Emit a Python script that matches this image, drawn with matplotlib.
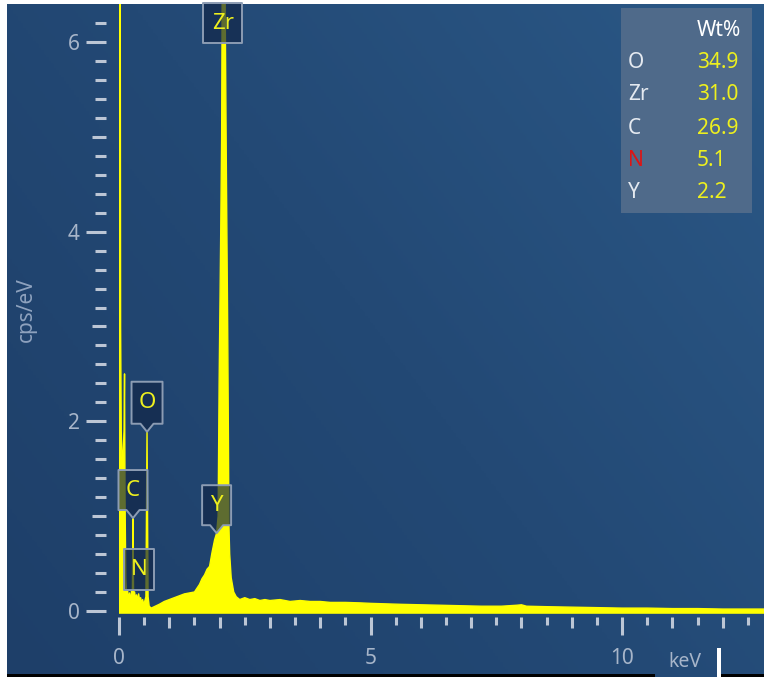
import numpy as np
import matplotlib.pyplot as plt
import matplotlib.transforms as mtransforms
from matplotlib.patches import Polygon, Rectangle
from matplotlib.colors import LinearSegmentedColormap

plt.rcParams['font.family'] = ['Noto Sans', 'DejaVu Sans']

# EDS spectrum, energy (keV) vs counts (cps/eV)
energy = [0.000, 0.008, 0.020, 0.032, 0.045, 0.060, 0.080, 0.100, 0.110, 0.120,
          0.135, 0.150, 0.170, 0.190, 0.210, 0.230, 0.250, 0.265, 0.278, 0.290,
          0.310, 0.330, 0.350, 0.370, 0.390, 0.410, 0.430, 0.450, 0.470, 0.490,
          0.510, 0.535, 0.557, 0.578, 0.600, 0.640, 0.680, 0.720, 0.760, 0.800,
          0.900, 1.000, 1.100, 1.200, 1.300, 1.400, 1.500, 1.550, 1.600, 1.650,
          1.700, 1.750, 1.800, 1.850, 1.900, 1.940, 1.970, 1.990, 2.020, 2.040,
          2.050, 2.075, 2.110, 2.135, 2.160, 2.175, 2.185, 2.200, 2.230, 2.280,
          2.330, 2.400, 2.500, 2.600, 2.700, 2.800, 2.900, 3.000, 3.200, 3.400,
          3.600, 3.800, 4.000, 4.200, 4.500, 4.800, 5.000, 5.300, 5.600, 6.000,
          6.400, 6.800, 7.200, 7.600, 7.900, 8.000, 8.100, 8.500, 9.000, 9.500,
          10.000, 10.500, 11.000, 11.500, 12.000, 12.500, 12.820]
counts = [1.60, 3.00, 9.00, 3.00, 1.90, 1.60, 1.65, 1.90, 2.50, 1.20,
          0.35, 0.15, 0.22, 0.12, 0.19, 0.10, 0.21, 0.15, 0.98, 0.14,
          0.20, 0.12, 0.17, 0.10, 0.18, 0.11, 0.14, 0.08, 0.12, 0.07,
          0.10, 0.15, 1.89, 0.15, 0.05, 0.03, 0.04, 0.05, 0.06, 0.07,
          0.10, 0.12, 0.14, 0.16, 0.18, 0.19, 0.20, 0.24, 0.28, 0.34,
          0.38, 0.44, 0.47, 0.62, 0.75, 0.82, 1.00, 2.40, 3.90, 5.00,
          6.40, 10.00, 6.40, 4.60, 3.00, 1.80, 0.90, 0.60, 0.35, 0.20,
          0.15, 0.12, 0.14, 0.12, 0.13, 0.11, 0.12, 0.11, 0.12, 0.10,
          0.11, 0.10, 0.10, 0.09, 0.09, 0.085, 0.08, 0.075, 0.07, 0.065,
          0.06, 0.055, 0.05, 0.05, 0.06, 0.065, 0.05, 0.045, 0.04, 0.035,
          0.03, 0.03, 0.025, 0.025, 0.02, 0.02, 0.02]

# peak labels: element, line energy (keV)
peak_elements = ['C', 'O', 'Y']
peak_energy = [0.278, 0.557, 1.940]

# quantification table
elements = ['O', 'Zr', 'C', 'N', 'Y']
wt_percent = ['34.9', '31.0', '26.9', '5.1', '2.2']

W, H = 764, 677
fig = plt.figure(figsize=(W / 100, H / 100), dpi=100, facecolor='white')


def fx(px):
    return px / W


def fy(py):
    return 1 - py / H


# dark blue gradient panel
bg = fig.add_axes([fx(7), 0, 1 - fx(7), fy(4)])
bg.set_zorder(-1)
bg.axis('off')
yy, xx = np.mgrid[0:1:300j, 0:1:300j]
shade = 0.6 * xx + 0.4 * yy
cmap = LinearSegmentedColormap.from_list('panel', ['#1e3f69', '#234975', '#2b5886'])
bg.imshow(shade, origin='lower', extent=[0, 1, 0, 1], aspect='auto', cmap=cmap)
bg.set_xlim(0, 1)
bg.set_ylim(0, 1)

ax = fig.add_axes([fx(119), fy(613.8), 1 - fx(119), fy(4.1) - fy(613.8)])
ax.patch.set_alpha(0)
ax.set_xlim(0, 12.82)
ax.set_ylim(-0.03, 6.4)
for s in ax.spines.values():
    s.set_color('none')
ax.spines['bottom'].set_position(('outward', 2.3))
ax.spines['left'].set_position(('outward', 9.4))

tick_col = '#bcc6d5'
lab_col = '#a7b5c9'

ax.set_xticks([0, 5, 10])
ax.set_xticks([h for h in np.arange(0.5, 12.6, 0.5) if h % 1 != 0], minor=True)
ax.set_yticks([0, 2, 4, 6])
ax.set_yticks([v for v in np.round(np.arange(0.2, 6.4, 0.2), 1) if v % 1 != 0], minor=True)
ax.tick_params(axis='x', which='major', length=13, width=2.2, color=tick_col,
               labelsize=15, labelcolor=lab_col, pad=9)
ax.tick_params(axis='x', which='minor', length=5.8, width=2.2, color=tick_col)
ax.tick_params(axis='y', which='major', length=14.4, width=2.2, color=tick_col,
               labelsize=15, labelcolor=lab_col, pad=4.5)
ax.tick_params(axis='y', which='minor', length=8, width=2.2, color=tick_col)

# whole keV and odd cps ticks, medium length
secx = ax.secondary_xaxis('bottom')
secx.spines['bottom'].set_position(('outward', 2.3))
secx.spines['bottom'].set_color('none')
secx.set_xticks([1, 2, 3, 4, 6, 7, 8, 9, 11, 12])
secx.tick_params(length=8, width=2.2, color=tick_col, labelbottom=False)
secy = ax.secondary_yaxis('left')
secy.spines['left'].set_position(('outward', 9.4))
secy.spines['left'].set_color('none')
secy.set_yticks([1, 3, 5])
secy.tick_params(length=10, width=2.2, color=tick_col, labelleft=False)

# spectrum
ax.fill_between(energy, counts, -0.03, color='#ffff00', lw=0, zorder=3)
ax.plot(energy, counts, color='#ffff00', lw=1.0, zorder=3)

box_face = (0.07, 0.15, 0.28, 0.68)
box_edge = '#8c9cb3'
label_col = '#eef01e'


def peak_label(x, y, text, w, h, pointer=8, top=False):
    trans = fig.dpi_scale_trans + mtransforms.ScaledTranslation(x, y, ax.transData)
    if top:
        verts = [(-w / 2, 1), (w / 2, 1), (w / 2, 1 - h), (-w / 2, 1 - h)]
        ty = 1 - h / 2
    else:
        verts = [(0, 0), (-6.5, pointer), (-w / 2, pointer), (-w / 2, pointer + h),
                 (w / 2, pointer + h), (w / 2, pointer), (6.5, pointer)]
        ty = pointer + h / 2
    verts = [(a / 100, b / 100) for a, b in verts]
    ax.add_patch(Polygon(verts, closed=True, transform=trans, facecolor=box_face,
                         edgecolor=box_edge, lw=1.4, joinstyle='round',
                         zorder=5, clip_on=False))
    ax.text(0, ty / 100, text, transform=trans, ha='center', va='center',
            color=label_col, fontsize=16, zorder=6)


for el, e in zip(peak_elements, peak_energy):
    w = 31 if el == 'O' else 29
    h = 42 if el == 'O' else 40
    peak_label(e, np.interp(e, energy, counts), el, w, h)
peak_label(0.398, 0.22, 'N', 30, 41, pointer=0)
peak_label(2.06, 6.4, 'Zr', 39, 40, top=True)

# quantification table
fig.add_artist(Rectangle((fx(621), fy(213)), fx(752) - fx(621), fy(8) - fy(213),
                         transform=fig.transFigure, facecolor='#4f6a8a',
                         edgecolor='none', zorder=1))
fig.text(fx(697), fy(30), 'Wt%', color='white', fontsize=15, weight='bold',
         va='center', zorder=2)
row_y = [62, 95, 128, 160, 192]
for el, wt, ry in zip(elements, wt_percent, row_y):
    fig.text(fx(628), fy(ry), el, color='#dd1515' if el == 'N' else '#e4e9f0',
             fontsize=15, va='center', zorder=2)
    fig.text(fx(697), fy(ry), wt, color='#eef01e', fontsize=15, va='center', zorder=2)

fig.text(fx(26), fy(310), 'cps/eV', rotation=90, ha='center', va='center',
         color='#8ea2be', fontsize=15)
fig.text(fx(668), fy(662), 'keV', color=lab_col, fontsize=14, va='center')

# frame edges along the bottom
fig.add_artist(Rectangle((fx(7), 0), fx(655) - fx(7), fy(674), transform=fig.transFigure,
                         facecolor='black', edgecolor='none', zorder=1))
fig.add_artist(Rectangle((fx(721), 0), 1 - fx(721), fy(674), transform=fig.transFigure,
                         facecolor='black', edgecolor='none', zorder=1))
fig.add_artist(Rectangle((fx(717), 0), fx(4), fy(648), transform=fig.transFigure,
                         facecolor='white', edgecolor='none', zorder=1))

fig.savefig('out.png', dpi=100, facecolor='white')
